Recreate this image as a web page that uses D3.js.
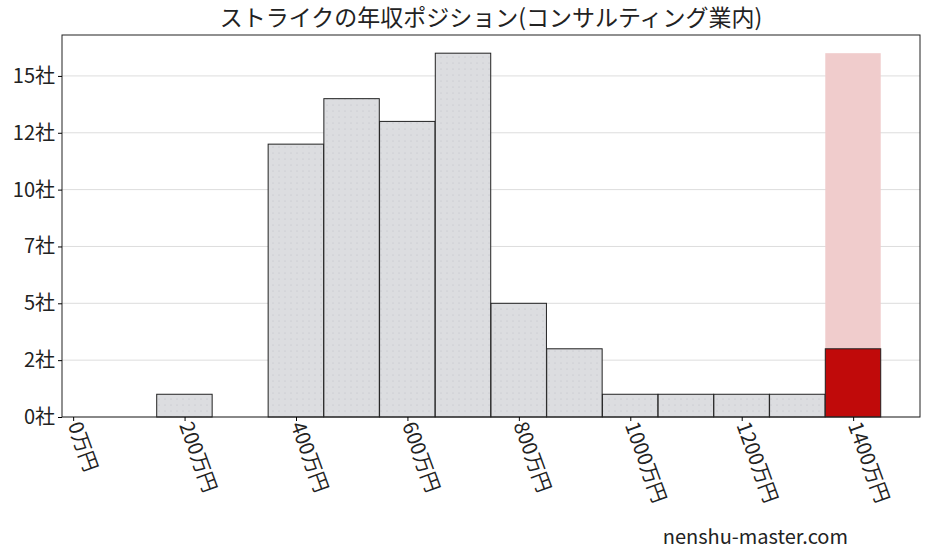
<!DOCTYPE html>
<html><head><meta charset="utf-8">
<script src="https://cdn.jsdelivr.net/npm/d3@7"></script>
<style>body{margin:0;background:#fff}text{font-family:"Noto Sans CJK JP",sans-serif}</style>
</head><body><svg id="chart" width="928" height="557"></svg>
<script>
// bins (start, 万円) and company counts
const binStarts = [150, 350, 450, 550, 650, 750, 850, 950, 1050, 1150, 1250, 1350];
const counts = [1, 12, 14, 13, 16, 5, 3, 1, 1, 1, 1, 3];
const highlightBin = 1350;
const highlightMax = 16;
const binWidth = 99.5;
const xTicks = [0, 200, 400, 600, 800, 1000, 1200, 1400];
const yTicks = [0, 2.5, 5, 7.5, 10, 12.5, 15];

const svg = d3.select("#chart");
const m = {left: 62, right: 8, top: 35, bottom: 140};
const W = 928, H = 557;
const x = d3.scaleLinear().domain([-20, 1520]).range([m.left, W - m.right]);
const y = d3.scaleLinear().domain([0, 16.8]).range([H - m.bottom, m.top]);

const defs = svg.append("defs");
const pat = defs.append("pattern").attr("id", "dots").attr("width", 6).attr("height", 6).attr("patternUnits", "userSpaceOnUse");
pat.append("rect").attr("width", 6).attr("height", 6).attr("fill", "#dcdde0");
pat.append("circle").attr("cx", 3).attr("cy", 3).attr("r", 0.5).attr("fill", "#b8bac0");

svg.append("g").selectAll("line").data(yTicks).join("line")
  .attr("x1", m.left).attr("x2", W - m.right)
  .attr("y1", d => y(d)).attr("y2", d => y(d))
  .attr("stroke", "#ddd").attr("stroke-width", 1);

svg.append("rect")
  .attr("x", x(highlightBin)).attr("width", x(highlightBin + binWidth) - x(highlightBin))
  .attr("y", y(highlightMax)).attr("height", y(0) - y(highlightMax))
  .attr("fill", "#f0cccc");

svg.append("g").selectAll("rect").data(binStarts).join("rect")
  .attr("x", d => x(d)).attr("width", x(binWidth) - x(0))
  .attr("y", (d, i) => y(counts[i])).attr("height", (d, i) => y(0) - y(counts[i]))
  .attr("fill", d => d === highlightBin ? "#c00a0a" : "url(#dots)")
  .attr("stroke", "#222").attr("stroke-width", 1);

svg.append("rect").attr("x", m.left).attr("y", m.top)
  .attr("width", W - m.right - m.left).attr("height", y(0) - m.top)
  .attr("fill", "none").attr("stroke", "#222");

const ya = svg.append("g").attr("transform", `translate(${m.left},0)`)
  .call(d3.axisLeft(y).tickValues(yTicks).tickFormat(d => Math.floor(d) + "社").tickSize(4));
ya.select(".domain").remove();
ya.selectAll("text").attr("font-size", 20).attr("fill", "#222");

const xa = svg.append("g").attr("transform", `translate(0,${y(0)})`)
  .call(d3.axisBottom(x).tickValues(xTicks).tickFormat(d => d + "万円").tickSize(4));
xa.select(".domain").remove();
xa.selectAll("text").attr("font-size", 20).attr("fill", "#222")
  .attr("text-anchor", "start").attr("dy", 0).attr("y", 0)
  .attr("transform", "translate(-6,8) rotate(70)");

svg.append("text").attr("x", (m.left + W - m.right) / 2).attr("y", 26)
  .attr("text-anchor", "middle").attr("font-size", 23).attr("fill", "#222")
  .text("ストライクの年収ポジション(コンサルティング業内)");

svg.append("text").attr("x", 848).attr("y", 544).attr("text-anchor", "end")
  .attr("font-size", 20).attr("fill", "#222").text("nenshu-master.com");
</script></body></html>
